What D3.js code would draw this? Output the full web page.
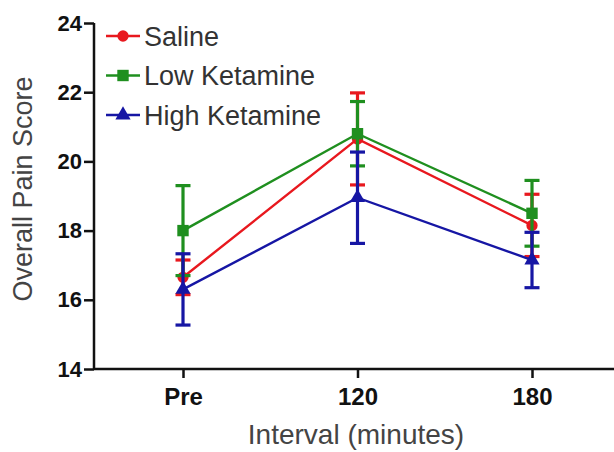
<!DOCTYPE html>
<html lang="en">
<head>
    <meta charset="UTF-8">
    <title>Overall Pain Score</title>
    <script src="https://d3js.org/d3.v7.min.js"></script>
    <style>
        body { margin: 0; background: #fff; }
        .tick text { font-family: "Liberation Sans", Arial, sans-serif; font-weight: bold; fill: #111; }
    </style>
</head>
<body>
<div id="chart"></div>
<script>
    var intervals = ["Pre", "120", "180"];
    var yTicks = [14, 16, 18, 20, 22, 24];
    var seriesNames = ["Saline", "Low Ketamine", "High Ketamine"];
    var seriesColors = ["#e8181e", "#1f8f1f", "#1616a4"];
    var seriesShapes = ["circle", "square", "triangle"];
    // mean and error (+/-) per interval
    var salineMean = [16.65, 20.65, 18.15];
    var salineErr = [0.5, 1.33, 0.9];
    var lowMean = [18.0, 20.8, 18.5];
    var lowErr = [1.3, 0.93, 0.95];
    var highMean = [16.3, 18.95, 17.15];
    var highErr = [1.03, 1.32, 0.8];

    var series = [
        { name: seriesNames[0], mean: salineMean, err: salineErr, color: seriesColors[0], shape: seriesShapes[0] },
        { name: seriesNames[1], mean: lowMean, err: lowErr, color: seriesColors[1], shape: seriesShapes[1] },
        { name: seriesNames[2], mean: highMean, err: highErr, color: seriesColors[2], shape: seriesShapes[2] }
    ];

    var W = 614, H = 452;
    var svg = d3.select("#chart").append("svg")
        .attr("width", W).attr("height", H);

    var x = d3.scalePoint().domain(intervals).range([183, 532]);
    var y = d3.scaleLinear().domain([14, 24]).range([369, 23]);

    var symbolFor = {
        circle: d3.symbol().type(d3.symbolCircle).size(100),
        square: d3.symbol().type(d3.symbolSquare).size(130),
        triangle: d3.symbol().type(d3.symbolTriangle).size(100)
    };

    // axes
    var yAxis = svg.append("g")
        .attr("transform", "translate(94,0)")
        .call(d3.axisLeft(y).tickValues(yTicks).tickSize(10).tickPadding(2));
    yAxis.selectAll(".tick text").style("font-size", "22px");
    var xAxis = svg.append("g")
        .attr("transform", "translate(0,369)")
        .call(d3.axisBottom(x).tickSize(9).tickPadding(10));
    xAxis.selectAll(".tick text").style("font-size", "24px");
    xAxis.select(".domain").attr("d", "M94,0H614");
    yAxis.select(".domain").attr("d", "M0,23V369");
    svg.selectAll(".domain, .tick line").attr("stroke", "#111").attr("stroke-width", 2.5);

    // axis titles
    svg.append("text")
        .attr("x", 356).attr("y", 444)
        .attr("text-anchor", "middle")
        .style("font-family", "'Liberation Sans', Arial, sans-serif")
        .style("font-size", "28px").style("fill", "#444")
        .text("Interval (minutes)");
    svg.append("text")
        .attr("transform", "translate(32,189) rotate(-90)")
        .attr("text-anchor", "middle")
        .style("font-family", "'Liberation Sans', Arial, sans-serif")
        .style("font-size", "27px").style("fill", "#444")
        .text("Overall Pain Score");

    // series
    series.forEach(function (s) {
        var pts = intervals.map(function (k, i) { return { k: k, m: s.mean[i], e: s.err[i] }; });
        var g = svg.append("g");

        g.append("path")
            .datum(pts)
            .attr("fill", "none")
            .attr("stroke", s.color)
            .attr("stroke-width", 2.4)
            .attr("d", d3.line().x(d => x(d.k)).y(d => y(d.m)));

        g.selectAll(".bar").data(pts).enter().append("line")
            .attr("x1", d => x(d.k)).attr("x2", d => x(d.k))
            .attr("y1", d => y(d.m - d.e)).attr("y2", d => y(d.m + d.e))
            .attr("stroke", s.color).attr("stroke-width", 3.2);

        [1, -1].forEach(function (sign) {
            g.selectAll(".cap" + sign).data(pts).enter().append("line")
                .attr("x1", d => x(d.k) - 7.5).attr("x2", d => x(d.k) + 7.5)
                .attr("y1", d => y(d.m + sign * d.e)).attr("y2", d => y(d.m + sign * d.e))
                .attr("stroke", s.color).attr("stroke-width", 3.2);
        });

        g.selectAll(".mk").data(pts).enter().append("path")
            .attr("transform", d => "translate(" + x(d.k) + "," + y(d.m) + ")")
            .attr("d", symbolFor[s.shape]())
            .attr("fill", s.color);
    });

    // legend
    var legend = svg.append("g");
    series.forEach(function (s, i) {
        var ly = 36 + i * 39.5;
        legend.append("line")
            .attr("x1", 106).attr("x2", 140).attr("y1", ly).attr("y2", ly)
            .attr("stroke", s.color).attr("stroke-width", 2.4);
        legend.append("path")
            .attr("transform", "translate(123," + ly + ")")
            .attr("d", symbolFor[s.shape]())
            .attr("fill", s.color);
        legend.append("text")
            .attr("x", 144).attr("y", ly + 9.5)
            .style("font-family", "'Liberation Sans', Arial, sans-serif")
            .style("font-size", "27px").style("fill", "#333")
            .text(s.name);
    });
</script>
</body>
</html>
